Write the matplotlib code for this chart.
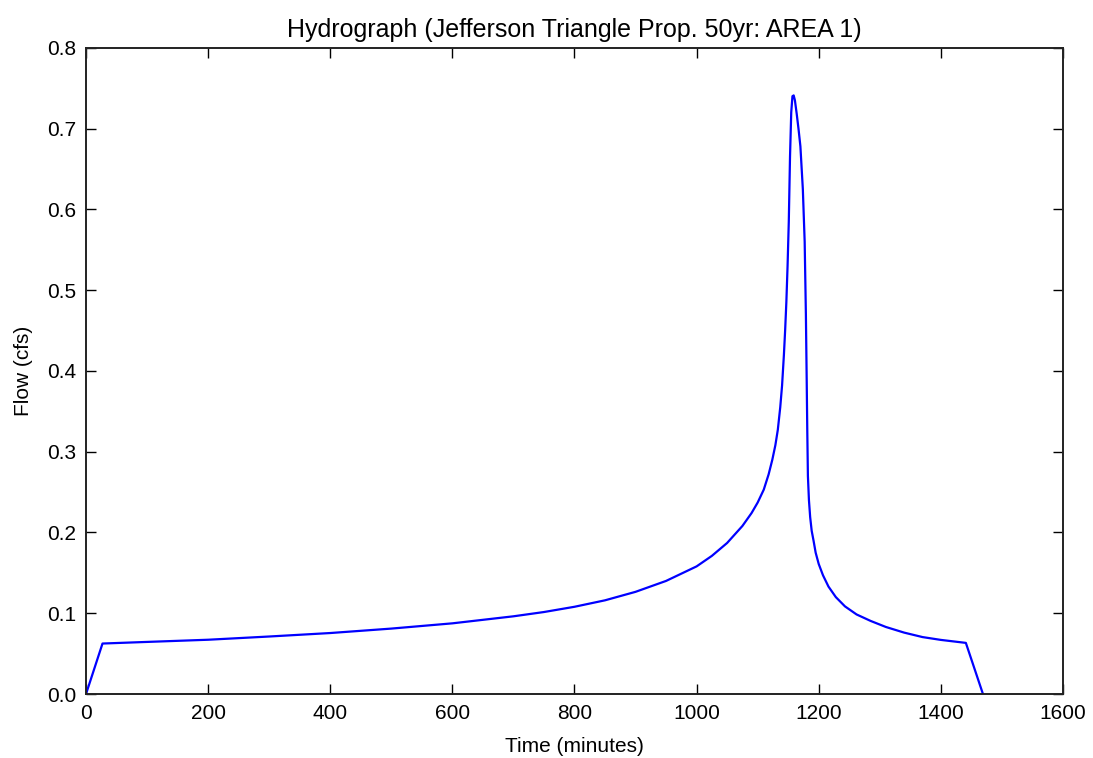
import matplotlib
matplotlib.use("Agg")
import matplotlib.pyplot as plt

# hydrograph ordinates (minutes, cfs)
time_min = [0, 27, 100, 200, 300, 400, 500, 600, 700, 750, 800, 850, 900,
            950, 1000, 1025, 1050, 1075, 1090, 1100, 1110, 1118, 1124, 1129,
            1133, 1137, 1140, 1143, 1145, 1147, 1149, 1151, 1153, 1155, 1157,
            1159, 1161, 1164, 1167, 1170, 1174, 1177, 1179, 1180.3, 1181.3,
            1182.3, 1184, 1186, 1188.5, 1191.5, 1195, 1200, 1207, 1216, 1228,
            1243, 1262, 1285, 1310, 1340, 1370, 1400, 1441, 1469]
flow_cfs = [0.0, 0.0625, 0.0645, 0.0672, 0.0712, 0.0755, 0.0810, 0.0875,
            0.0962, 0.1015, 0.1080, 0.1160, 0.1265, 0.1400, 0.1580, 0.1710,
            0.1870, 0.2080, 0.2240, 0.2370, 0.2530, 0.2720, 0.2900, 0.3080,
            0.3270, 0.3550, 0.3820, 0.4200, 0.4500, 0.4850, 0.5300, 0.5850,
            0.6650, 0.7200, 0.7400, 0.7410, 0.7350, 0.7180, 0.6990, 0.6780,
            0.6250, 0.5600, 0.4700, 0.3900, 0.3250, 0.2700, 0.2400, 0.2190,
            0.2020, 0.1900, 0.1750, 0.1610, 0.1470, 0.1330, 0.1200, 0.1085,
            0.0985, 0.0905, 0.0830, 0.0760, 0.0705, 0.0670, 0.0633, 0.0]

title = "Hydrograph (Jefferson Triangle Prop. 50yr: AREA 1)"

plt.rcParams["font.family"] = ["Liberation Sans", "DejaVu Sans"]

fig = plt.figure(figsize=(10.93, 7.58), dpi=100, facecolor="white")
ax = fig.add_axes([0.0787, 0.0844, 0.8938, 0.8526])

ax.plot(time_min, flow_cfs, color="#0000ff", linewidth=1.6)

ax.set_xlim(0, 1600)
ax.set_ylim(0, 0.8)
ax.set_xticks(range(0, 1601, 200))
ax.set_yticks([i / 10 for i in range(9)])
ax.set_yticklabels(["%.1f" % (i / 10) for i in range(9)])

ax.tick_params(direction="in", length=7, width=1, labelsize=15,
               top=True, right=True, pad=7)
for sp in ax.spines.values():
    sp.set_linewidth(1.4)
    sp.set_color("#222222")

ax.set_title(title, fontsize=18, pad=8)
ax.set_xlabel("Time (minutes)", fontsize=15, labelpad=10)
ax.set_ylabel("Flow (cfs)", fontsize=15, labelpad=10)

fig.savefig("out.png", dpi=100, facecolor="white")
